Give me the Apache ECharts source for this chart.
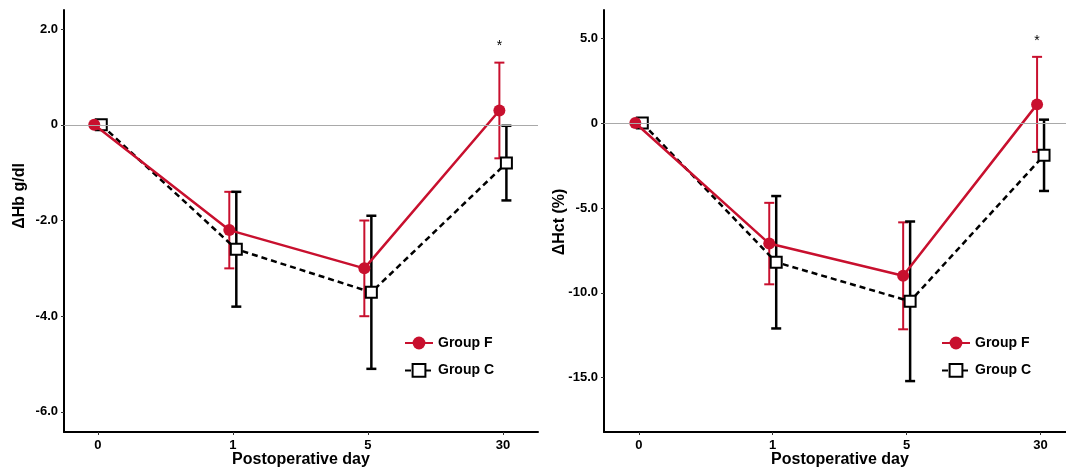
<!DOCTYPE html>
<html>
<head>
<meta charset="utf-8">
<script src="https://cdn.jsdelivr.net/npm/echarts@6/dist/echarts.min.js"></script>
<style>html,body{margin:0;padding:0;background:#fff;}#c{width:1066px;height:470px;}</style>
</head>
<body>
<div id="c"></div>
<script>
// ---- data ----
const days = ['0', '1', '5', '30'];
const hbF = [0, -2.2, -3.0, 0.3];
const hbFsd = [0, 0.8, 1.0, 1.0];
const hbC = [0, -2.6, -3.5, -0.8];
const hbCsd = [0, 1.2, 1.6, 0.78];
const hctF = [0, -7.1, -9.0, 1.1];
const hctFsd = [0, 2.4, 3.15, 2.8];
const hctC = [0, -8.2, -10.5, -1.9];
const hctCsd = [0, 3.9, 4.7, 2.1];
const sigMarks = ['', '', '', '*'];
const hbTicks = [-6, -4, -2, 0, 2];
const hctTicks = [-15, -10, -5, 0, 5];

// ---- styling ----
const RED = '#C8102E';
const BLK = '#000000';
const DODGE = 0.026;
const FONT = '"Liberation Sans", Arial, sans-serif';

function pts(vals, off) { return vals.map((v, i) => [i + off, v]); }
function errs(vals, sd, off) { return vals.map((v, i) => [i + off, v - sd[i], v + sd[i], sd[i]]); }

function errSeries(data, color, width, xi, yi, sig) {
  return {
    type: 'custom', xAxisIndex: xi, yAxisIndex: yi, z: 1, silent: true,
    data: data,
    renderItem: function (params, api) {
      const sd = api.value(3);
      const idx = params.dataIndex;
      const children = [];
      if (sd > 0) {
        const lo = api.coord([api.value(0), api.value(1)]);
        const hi = api.coord([api.value(0), api.value(2)]);
        const hw = 5;
        const st = { stroke: color, lineWidth: width };
        children.push({ type: 'line', shape: { x1: lo[0], y1: lo[1], x2: hi[0], y2: hi[1] }, style: st });
        children.push({ type: 'line', shape: { x1: lo[0] - hw, y1: lo[1], x2: lo[0] + hw, y2: lo[1] }, style: st });
        children.push({ type: 'line', shape: { x1: hi[0] - hw, y1: hi[1], x2: hi[0] + hw, y2: hi[1] }, style: st });
        if (sig && sig[idx]) {
          children.push({ type: 'text', x: hi[0], y: hi[1] - 16,
            style: { text: sig[idx], fill: '#000', font: '14px ' + FONT, align: 'center', verticalAlign: 'middle' } });
        }
      }
      return { type: 'group', children: children };
    }
  };
}

function lineF(vals, xi, yi) {
  return {
    name: 'Group F', type: 'line', xAxisIndex: xi, yAxisIndex: yi, z: 4,
    data: pts(vals, -DODGE), symbol: 'circle', symbolSize: 12,
    itemStyle: { color: RED }, lineStyle: { color: RED, width: 2.5 },
    emphasis: { disabled: true }, animation: false
  };
}
function lineC(vals, xi, yi) {
  return {
    name: 'Group C', type: 'line', xAxisIndex: xi, yAxisIndex: yi, z: 3,
    data: pts(vals, DODGE), symbol: 'rect', symbolSize: 11,
    itemStyle: { color: '#fff', borderColor: BLK, borderWidth: 2 },
    lineStyle: { color: BLK, width: 2.5, type: [6, 4] },
    emphasis: { disabled: true }, animation: false,
    markLine: {
      silent: true, symbol: 'none', animation: false,
      lineStyle: { color: '#a9a9a9', width: 1, type: 'solid' },
      label: { show: false },
      data: [{ yAxis: 0 }]
    }
  };
}

function xAxis(gi, min, max) {
  return {
    type: 'value', gridIndex: gi, min: min, max: max,
    splitLine: { show: false },
    axisLine: { show: true, onZero: false, lineStyle: { color: '#000', width: 2 } },
    axisTick: { show: true, length: 3, customValues: [0, 1, 2, 3], lineStyle: { color: '#333', width: 1 } },
    axisLabel: { customValues: [0, 1, 2, 3], formatter: v => days[Math.round(v)], color: '#000',
      fontWeight: 'bold', fontSize: 13, fontFamily: FONT, margin: 7 }
  };
}
function yAxis(gi, min, max, ticks) {
  return {
    type: 'value', gridIndex: gi, min: min, max: max,
    splitLine: { show: false },
    axisLine: { show: true, onZero: false, lineStyle: { color: '#000', width: 2 } },
    axisTick: { show: true, length: 3, customValues: ticks, lineStyle: { color: '#333', width: 1 } },
    axisLabel: { customValues: ticks, formatter: v => (v === 0 ? '0' : v.toFixed(1)), color: '#000',
      fontWeight: 'bold', fontSize: 13, fontFamily: FONT, margin: 6 }
  };
}

const legendCommon = {
  orient: 'vertical', itemWidth: 28, itemHeight: 16, itemGap: 13,
  data: ['Group F', 'Group C'],
  textStyle: { color: '#000', fontWeight: 'bold', fontSize: 14, fontFamily: FONT },
  selectedMode: false
};

const option = {
  backgroundColor: '#fff',
  animation: false,
  grid: [
    { left: 64, top: 10, width: 474, height: 422 },
    { left: 604, top: 10, right: 0, height: 422 }
  ],
  xAxis: [xAxis(0, -0.25, 3.26), xAxis(1, -0.26, 3.19)],
  yAxis: [yAxis(0, -6.42, 2.4, hbTicks), yAxis(1, -18.2, 6.66, hctTicks)],
  legend: [
    Object.assign({ left: 399, top: 331 }, legendCommon),
    Object.assign({ left: 936, top: 331 }, legendCommon)
  ],
  graphic: [
    { type: 'text', x: 20, y: 196, rotation: Math.PI / 2,
      style: { text: 'ΔHb g/dl', fill: '#000', font: 'bold 16px ' + FONT, align: 'center', verticalAlign: 'middle' } },
    { type: 'text', x: 560, y: 222, rotation: Math.PI / 2,
      style: { text: 'ΔHct (%)', fill: '#000', font: 'bold 16px ' + FONT, align: 'center', verticalAlign: 'middle' } },
    { type: 'text', x: 301, y: 460,
      style: { text: 'Postoperative day', fill: '#000', font: 'bold 16px ' + FONT, align: 'center', verticalAlign: 'middle' } },
    { type: 'text', x: 840, y: 460,
      style: { text: 'Postoperative day', fill: '#000', font: 'bold 16px ' + FONT, align: 'center', verticalAlign: 'middle' } }
  ],
  series: [
    errSeries(errs(hbF, hbFsd, -DODGE), RED, 2, 0, 0, sigMarks),
    errSeries(errs(hbC, hbCsd, DODGE), BLK, 2.5, 0, 0, null),
    lineC(hbC, 0, 0),
    lineF(hbF, 0, 0),
    errSeries(errs(hctF, hctFsd, -DODGE), RED, 2, 1, 1, sigMarks),
    errSeries(errs(hctC, hctCsd, DODGE), BLK, 2.5, 1, 1, null),
    lineC(hctC, 1, 1),
    lineF(hctF, 1, 1)
  ]
};

const chart = echarts.init(document.getElementById('c'), null, { renderer: 'canvas' });
chart.setOption(option);
</script>
</body>
</html>
